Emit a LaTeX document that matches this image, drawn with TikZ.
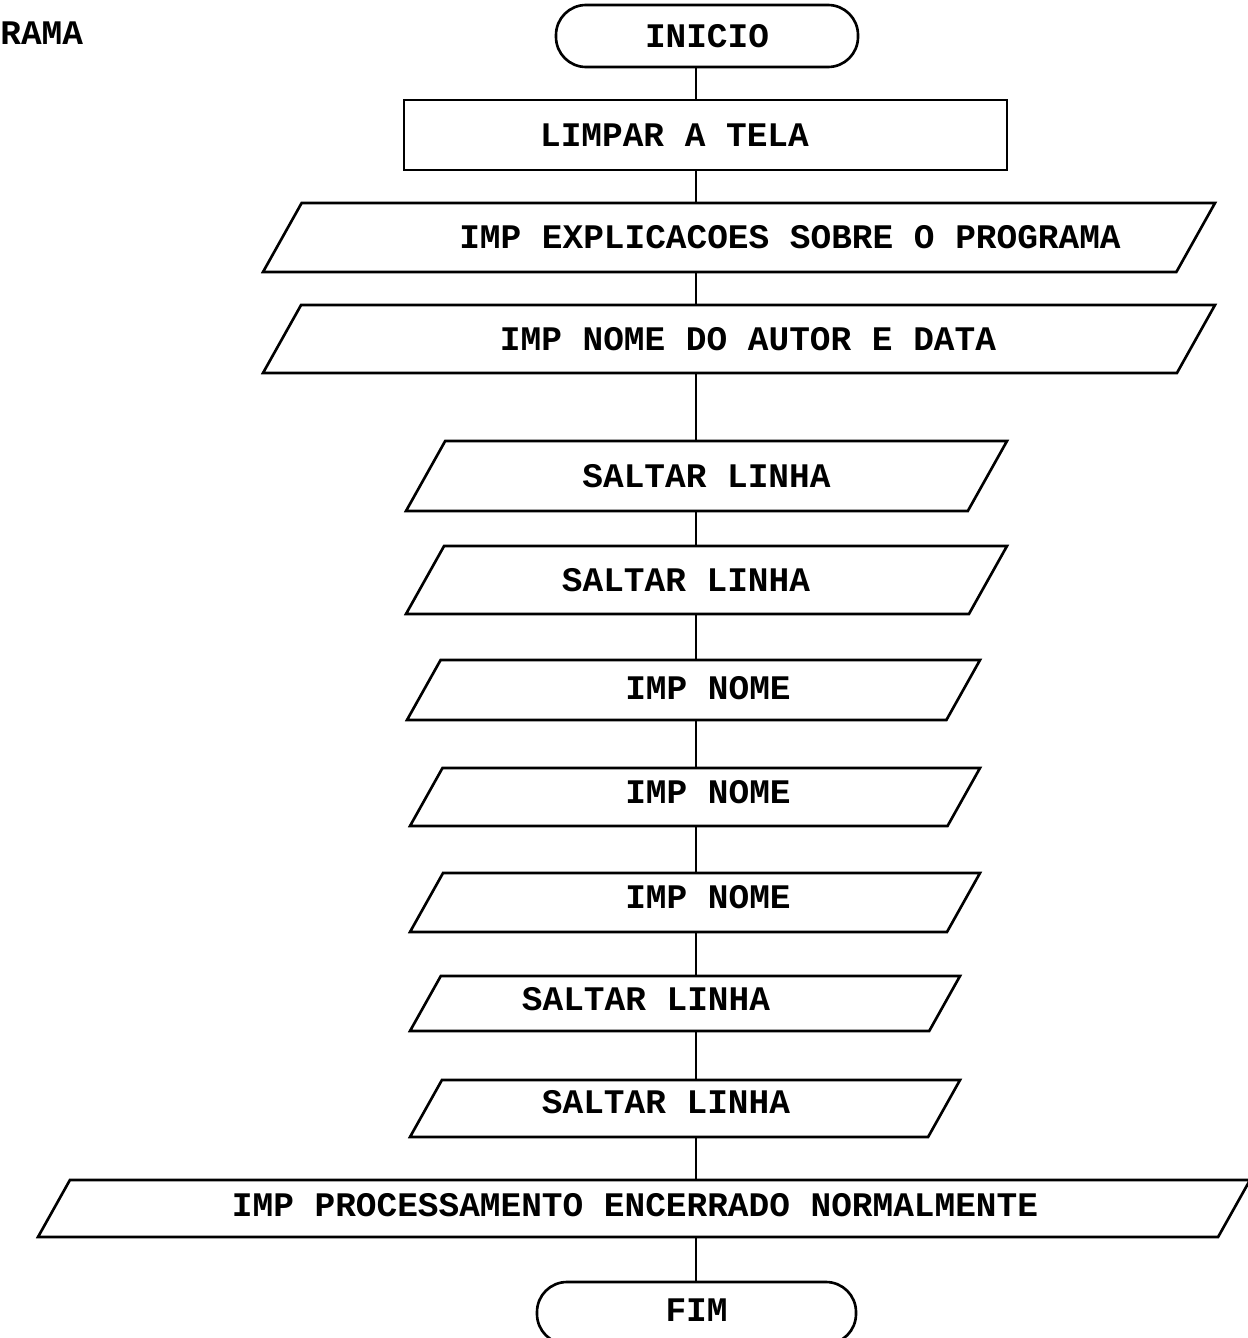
\documentclass[tikz,border=0pt]{standalone}
\usepackage{fontspec}
\newfontfamily\flowfont{Liberation Mono}
\usetikzlibrary{calc}

\begin{document}
\begin{tikzpicture}[every node/.style={font=\flowfont\bfseries\fontsize{19.6}{22}\selectfont},
  terminal/.style={draw, line width=1.5pt, rounded corners=0.6cm, minimum width=6.2cm, minimum height=1.24cm},
  process/.style={draw, line width=1.5pt, minimum height=1.40cm},
  io/.style={inner sep=0pt, outer sep=0pt},
  outline/.style={line width=1.5pt, line join=miter},
  link/.style={line width=1.1pt}]
  \useasboundingbox (0,0) rectangle (24.94,-26.76);

  % Title (cut off)
  \node[anchor=west, inner sep=0pt] (title) at (0,-0.66) {RAMA};

  % Start
  \node[terminal, minimum width=6.04cm] (inicio) at (14.14,-0.72) {INICIO};
  \node[process, minimum width=12.06cm, label={[xshift=-0.62cm]center:LIMPAR A TELA}] (limpar) at (14.11,-2.70) {};

  % Outputs
  \node[io, minimum width=19.04cm, minimum height=1.38cm,
    label={[xshift=1.02cm]center:IMP EXPLICACOES SOBRE O PROGRAMA}] (expl) at (14.78,-4.75) {};
  \node[io, minimum width=19.04cm, minimum height=1.36cm,
    label={[xshift=0.18cm]center:IMP NOME DO AUTOR E DATA}] (autor) at (14.78,-6.78) {};

  % Blank lines
  \node[io, minimum width=12.02cm, minimum height=1.40cm,
    label={center:SALTAR LINHA}] (salta) at (14.13,-9.52) {};
  \node[io, minimum width=12.02cm, minimum height=1.36cm,
    label={[xshift=-0.41cm]center:SALTAR LINHA}] (saltb) at (14.13,-11.60) {};

  % Names
  \node[io, minimum width=11.46cm, minimum height=1.20cm,
    label={[xshift=0.29cm, yshift=0.04cm]center:IMP NOME}] (nomea) at (13.87,-13.80) {};
  \node[io, minimum width=11.40cm, minimum height=1.16cm,
    label={[xshift=0.26cm, yshift=0.10cm]center:IMP NOME}] (nomeb) at (13.90,-15.94) {};
  \node[io, minimum width=11.40cm, minimum height=1.18cm,
    label={[xshift=0.26cm, yshift=0.11cm]center:IMP NOME}] (nomec) at (13.90,-18.05) {};

  % Blank lines again
  \node[io, minimum width=11.00cm, minimum height=1.10cm,
    label={[xshift=-0.78cm, yshift=0.09cm]center:SALTAR LINHA}] (saltc) at (13.70,-20.07) {};
  \node[io, minimum width=11.00cm, minimum height=1.14cm,
    label={[xshift=-0.38cm, yshift=0.13cm]center:SALTAR LINHA}] (saltd) at (13.70,-22.17) {};

  % End message
  \node[io, minimum width=24.24cm, minimum height=1.14cm,
    label={[xshift=-0.18cm, yshift=0.07cm]center:IMP PROCESSAMENTO ENCERRADO NORMALMENTE}] (proc) at (12.88,-24.17) {};

  % End
  \node[terminal, minimum width=6.38cm, label={[yshift=0.06cm]center:FIM}] (fim) at (13.93,-26.26) {};

  % Parallelogram outlines
  \foreach \io in {expl,autor,salta,saltb,nomea,nomeb,nomec,saltc,saltd,proc}
    \draw[outline] let \p1=(\io.north west), \p2=(\io.south east), \n1={0.56*(\y1-\y2)} in
      (\x1+\n1,\y1) -- (\x2,\y1) -- (\x2-\n1,\y2) -- (\x1,\y2) -- cycle;

  % Flow line
  \coordinate (spine) at (13.92,0);
  \draw[link] (inicio.south -| spine) -- (limpar.north -| spine);
  \draw[link] (limpar.south -| spine) -- (expl.north -| spine);
  \draw[link] (expl.south -| spine) -- (autor.north -| spine);
  \draw[link] (autor.south -| spine) -- (salta.north -| spine);
  \draw[link] (salta.south -| spine) -- (saltb.north -| spine);
  \draw[link] (saltb.south -| spine) -- (nomea.north -| spine);
  \draw[link] (nomea.south -| spine) -- (nomeb.north -| spine);
  \draw[link] (nomeb.south -| spine) -- (nomec.north -| spine);
  \draw[link] (nomec.south -| spine) -- (saltc.north -| spine);
  \draw[link] (saltc.south -| spine) -- (saltd.north -| spine);
  \draw[link] (saltd.south -| spine) -- (proc.north -| spine);
  \draw[link] (proc.south -| spine) -- (fim.north -| spine);
\end{tikzpicture}
\end{document}
